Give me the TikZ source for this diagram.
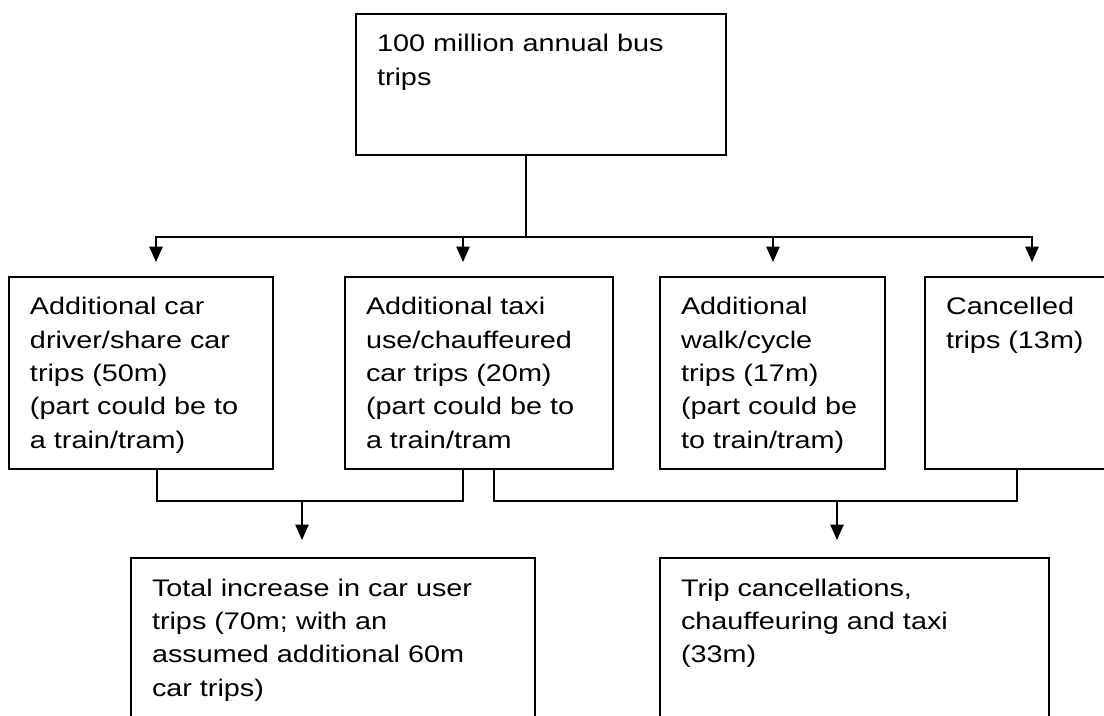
\documentclass[tikz,border=0pt]{standalone}
\usepackage{fontspec}
\setmainfont{Liberation Sans}[FakeStretch=1.2]
\usetikzlibrary{arrows.meta}
\newdimen\pxu
\pxu=0.75pt

\begin{document}
\begin{tikzpicture}[x=0.75pt, y=-0.75pt,
  box/.style={rectangle, draw=black, line width=1.2pt, anchor=north west, align=left, inner xsep=21\pxu, inner ysep=0pt, outer sep=0pt, text height=38\pxu, font=\fontsize{18pt}{25pt}\selectfont},
  link/.style={draw=black, line width=1pt},
  arr/.style={draw=black, line width=1pt, -{Triangle[length=11.5pt, width=10pt]}}
]
\useasboundingbox (0,0) rectangle (1104,716);
\clip (0,0) rectangle (1104,716);

\node[box, text width=328\pxu, text depth=103\pxu] (bus) at (356,14) {100 million annual bus\\trips};

\node[box, text width=222\pxu, text depth=154\pxu] (car) at (9,277) {Additional car\\driver/share car\\trips (50m)\\(part could be to\\a train/tram)};
\node[box, text width=226\pxu, text depth=154\pxu] (taxi) at (345,277) {Additional taxi\\use/chauffeured\\car trips (20m)\\(part could be to\\a train/tram};
\node[box, text width=183\pxu, text depth=154\pxu] (walk) at (660,277) {Additional\\walk/cycle\\trips (17m)\\(part could be\\to train/tram)};
\node[box, text width=153\pxu, text depth=154\pxu] (cancel) at (925,277) {Cancelled\\trips (13m)};

\node[box, text width=362\pxu, text depth=200\pxu] (total) at (131,558) {Total increase in car user\\trips (70m; with an\\assumed additional 60m\\car trips)};
\node[box, text width=347\pxu, text depth=200\pxu] (other) at (660,558) {Trip cancellations,\\chauffeuring and taxi\\(33m)};

\coordinate (split) at (526,237);
\coordinate (t1) at (156,237);
\coordinate (t2) at (463,237);
\coordinate (t3) at (773,237);
\coordinate (t4) at (1032,237);
\coordinate (b1) at (157,501);
\coordinate (b2) at (463,501);
\coordinate (b3) at (494,501);
\coordinate (b4) at (1017,501);
\coordinate (m1) at (302,501);
\coordinate (m2) at (837,501);

\draw[link] (bus.south -| split) -- (split);
\draw[arr, shorten >=15\pxu] (split) -| (car.north -| t1);
\draw[arr, shorten >=15\pxu] (split) -| (cancel.north -| t4);
\draw[arr, shorten >=15\pxu] (t2) -- (taxi.north -| t2);
\draw[arr, shorten >=15\pxu] (t3) -- (walk.north -| t3);

\draw[link] (car.south -| b1) |- (b2) -- (taxi.south -| b2);
\draw[link] (taxi.south -| b3) |- (b4) -- (cancel.south -| b4);
\draw[arr, shorten >=18\pxu] (m1) -- (total.north -| m1);
\draw[arr, shorten >=18\pxu] (m2) -- (other.north -| m2);
\end{tikzpicture}
\end{document}
